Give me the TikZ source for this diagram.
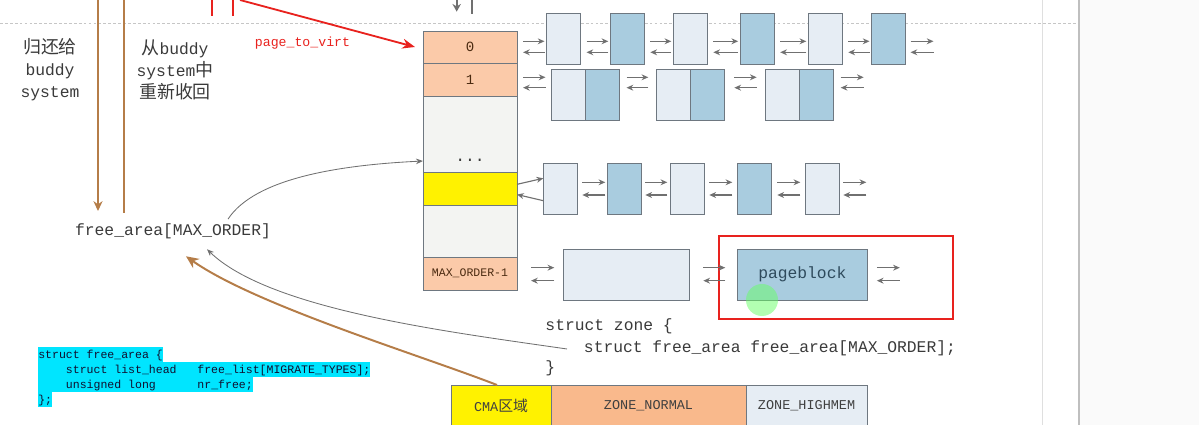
\documentclass[tikz,border=0pt]{standalone}
\usepackage{fontspec}
\setmainfont{Liberation Mono}
\setmonofont{Liberation Mono}
\newfontfamily\cjk[Scale=1.1]{Noto Sans CJK SC}
\usepackage{xcolor}
\usetikzlibrary{calc, positioning, arrows.meta}

\definecolor{peach}{HTML}{FBCAA9}
\definecolor{zonenormal}{HTML}{F9B98C}
\definecolor{pagelight}{HTML}{E6EDF4}
\definecolor{pageblue}{HTML}{A9CCDF}
\definecolor{colgray}{HTML}{F3F4F2}
\definecolor{cmayellow}{HTML}{FFF200}
\definecolor{boxline}{HTML}{6E7780}
\definecolor{linkgray}{HTML}{707070}
\definecolor{brownline}{HTML}{B57D48}
\definecolor{redline}{HTML}{E8221E}
\definecolor{codecyan}{HTML}{00E5FF}
\definecolor{textgray}{HTML}{3A3A3A}
\definecolor{celltext}{HTML}{4A2A10}
\definecolor{pbtext}{HTML}{2E4A5C}
\definecolor{codetext}{HTML}{101030}

\tikzset{
    cell/.style={draw=boxline, fill=colgray, minimum width=2.35cm, inner sep=0pt, outer sep=0pt},
    pgbox/.style={draw=boxline, minimum width=0.85cm, minimum height=1.275cm, inner sep=0pt, outer sep=0pt},
    pglight/.style={pgbox, fill=pagelight},
    pgblue/.style={pgbox, fill=pageblue},
    link/.style={draw=linkgray, line width=0.8pt, -{Stealth[length=4.8pt,width=4.2pt]}},
    curve/.style={draw=linkgray, line width=0.6pt, -{Stealth[length=5pt,width=4pt]}},
    zonebox/.style={draw=boxline, minimum height=1.05cm, inner sep=0pt, outer sep=0pt,
        font=\fontsize{9.6}{11}\selectfont, text=black!75},
    codeline/.style={fill=codecyan, anchor=west, inner sep=0pt, minimum height=0.375cm,
        text height=6.3pt, text depth=1.9pt, font=\fontsize{8.2}{9}\selectfont, text=codetext},
    bigtext/.style={font=\fontsize{11.6}{15.6}\selectfont, text=textgray},
}

\begin{document}
\begin{tikzpicture}[x=0.025cm, y=-0.025cm]
    \useasboundingbox (0,0) rectangle (1199,425);
    % page background
    \fill[gray!4] (1080,0) rectangle (1199,425);
    \draw[gray!45, dash pattern=on 2pt off 1.5pt] (0,23.3) -- (1080,23.3);
    \draw[gray!25, line width=0.7pt] (1042.3,0) -- (1042.3,425);
    \draw[gray!50, line width=1.4pt] (1079.3,0) -- (1079.3,425);

    % free_area column
    \node[cell, fill=peach, minimum height=0.8cm, font=\fontsize{10}{12}\selectfont, text=celltext] (c0) at (470,47) {0};
    \node[cell, fill=peach, minimum height=0.825cm, below=0pt of c0, font=\fontsize{10}{12}\selectfont, text=celltext] (c1) {1};
    \node[cell, minimum height=1.9cm, below=0pt of c1] (cg1) {};
    \node[cell, fill=cmayellow, minimum height=0.825cm, below=0pt of cg1] (cy) {};
    \node[cell, minimum height=1.3cm, below=0pt of cy] (cg2) {};
    \node[cell, fill=peach, minimum height=0.825cm, below=0pt of cg2, font=\fontsize{8.2}{10}\selectfont, text=celltext] (cmax) {MAX\_ORDER-1};
    \node[bigtext] (dots) at (470,160) {...};

    % page lists
    \node[pglight] (r0a) at (563.5,38.8) {};
    \node[pgblue]  (r0b) at (627.3,38.8) {};
    \node[pglight] (r0c) at (690.3,38.8) {};
    \node[pgblue]  (r0d) at (757.2,38.8) {};
    \node[pglight] (r0e) at (825.3,38.8) {};
    \node[pgblue]  (r0f) at (888.5,38.8) {};

    \node[pglight] (r1a) at (568.5,94.7) {};
    \node[pgblue, right=0pt of r1a] (r1b) {};
    \node[pglight] (r1c) at (673.3,94.7) {};
    \node[pgblue, right=0pt of r1c] (r1d) {};
    \node[pglight] (r1e) at (782.7,94.7) {};
    \node[pgblue, right=0pt of r1e] (r1f) {};

    \node[pglight] (r2a) at (560.3,188.8) {};
    \node[pgblue]  (r2b) at (624.3,188.8) {};
    \node[pglight] (r2c) at (687.3,188.8) {};
    \node[pgblue]  (r2d) at (754.3,188.8) {};
    \node[pglight] (r2e) at (822.3,188.8) {};

    \node[pglight, minimum width=3.15cm] (r3a) at (626.3,274.7) {};
    \node[pgblue, minimum width=3.25cm, font=\fontsize{11.6}{14}\selectfont, text=pbtext] (r3b) at (802.3,274.7) {pageblock};
    \fill[green!60!white, opacity=0.5] (762,300) circle (0.4cm);
    \node[draw=redline, line width=1.4pt, minimum width=5.865cm, minimum height=2.09cm, inner sep=0pt] (hl) at (836,277.5) {};

    % list links
    \foreach \pa/\pb/\ps/\pe/\pu/\pv in {c0/r0a/6/2/2.5/13.5, r0a/r0b/6/2/2.5/13.5, r0b/r0c/6/2/2.5/13.5,
        r0c/r0d/6/2/2.5/13.5, r0d/r0e/6/2/2.5/13.5, r0e/r0f/6/2/2.5/13.5,
        c1/r1a/6/6/-17.4/-7, r1b/r1c/7/8/-17.4/-7, r1d/r1e/10/9/-17.4/-7,
        r2a/r2b/5/2/-6.5/6.2, r2b/r2c/4/3/-6.5/6.2, r2c/r2d/5/5/-6.5/6.2, r2d/r2e/6/5/-6.5/6.2,
        cmax/r3a/14/9/-7/6, r3a/r3b/14/12/-7/6}{
        \coordinate (s) at (\pa.east |- \pb.west);
        \draw[link] ([shift={(\ps,\pu)}]s) -- ([shift={(-\pe,\pu)}]\pb.west);
        \draw[link] ([shift={(-\pe,\pv)}]\pb.west) -- ([shift={(\ps,\pv)}]s);
    }
    \foreach \pa/\ps/\pu/\pv in {r0f/5/2.5/13.5, r1f/7/-17.4/-7, r2e/4/-6.5/6.2, r3b/9.5/-7/6}{
        \draw[link] ([shift={(\ps,\pu)}]\pa.east) -- ++(23,0);
        \draw[link] ([shift={(\ps+23,\pv)}]\pa.east) -- ++(-23,0);
    }
    \draw[link] ([shift={(0,-4.2)}]cy.east) -- ([shift={(0,-10.5)}]r2a.west);
    \draw[link] ([shift={(0,11.9)}]r2a.west) -- ([shift={(0,6)}]cy.east);

    % left notes
    \node[bigtext, align=center] (giveback) at (50,70) {{\cjk 归还给}\\buddy\\system};
    \node[bigtext, align=center] (reclaim) at (175,70) {{\cjk 从}buddy\\system{\cjk 中}\\{\cjk 重新收回}};
    \node[bigtext] (fa) at (173,231.7) {free\_area[MAX\_ORDER]};
    \node[font=\fontsize{9.4}{11}\selectfont, text=redline] (p2v) at (302.5,43.3) {page\_to\_virt};

    % struct zone
    \node[bigtext, anchor=west] (zs1) at (540.5,326.5) {struct zone \{};
    \node[bigtext, anchor=west] (zs2) at (579,348) {struct free\_area free\_area[MAX\_ORDER];};
    \node[bigtext, anchor=west] (zs3) at (540.5,368) {\}};

    % zones
    \node[zonebox, fill=cmayellow, minimum width=2.5cm] (cma) at (501,406) {CMA{\cjk 区域}};
    \node[zonebox, fill=zonenormal, minimum width=4.875cm, right=0pt of cma] (normal) {ZONE\_NORMAL};
    \node[zonebox, fill=pagelight, minimum width=3.025cm, right=0pt of normal] (high) {ZONE\_HIGHMEM};

    % struct free_area
    \node[codeline] (fa1) at (38,355) {struct free\_area \{};
    \node[codeline] (fa2) at (38,370) {~~~~struct list\_head~~~free\_list[MIGRATE\_TYPES];};
    \node[codeline] (fa3) at (38,385) {~~~~unsigned long~~~~~~nr\_free;};
    \node[codeline] (fa4) at (38,400) {\};};

    % arrows from the top
    \coordinate (brA) at (98,0);
    \coordinate (brAend) at (98,211);
    \coordinate (brB) at (124,0);
    \coordinate (brBend) at (124,213);
    \draw[brownline, line width=1.4pt, -{Stealth[length=7pt,width=6.5pt]}] (brA) -- (brAend);
    \draw[brownline, line width=1.4pt] (brB) -- (brBend);
    \coordinate (rdA) at (211.7,0);
    \coordinate (rdAend) at (211.7,15.7);
    \coordinate (rdB) at (233.3,0);
    \coordinate (rdBend) at (233.3,15.7);
    \coordinate (rdC) at (240,0);
    \draw[redline, line width=1.3pt] (rdA) -- (rdAend);
    \draw[redline, line width=1.3pt] (rdB) -- (rdBend);
    \draw[redline, line width=1.3pt, -{Stealth[length=9pt,width=7pt]}] (rdC) -- ([shift={(-8,0)}]c0.west);
    \coordinate (gyA) at (456.7,0);
    \coordinate (gyAend) at (456.7,11.7);
    \coordinate (gyB) at (472.3,0);
    \coordinate (gyBend) at (472.3,14);
    \draw[linkgray, line width=1.3pt, -{Stealth[length=5.5pt,width=6pt]}] (gyA) -- (gyAend);
    \draw[linkgray, line width=1.3pt] (gyB) -- (gyBend);

    % curves
    \draw[curve] ([shift={(55,0)}]fa.north) .. controls (255,178) and (340,165) .. ([shift={(0,27)}]cg1.west);
    \draw[curve] ([shift={(-12,1)}]zs2.west) .. controls (450,332) and (270,310) .. ([shift={(34,5)}]fa.south);
    \draw[brownline, line width=1.4pt, -{Stealth[length=9pt,width=8pt]}] ([shift={(-4,0)}]cma.north) .. controls (420,355) and (255,305) .. ([shift={(13,12)}]fa.south);
\end{tikzpicture}
\end{document}
